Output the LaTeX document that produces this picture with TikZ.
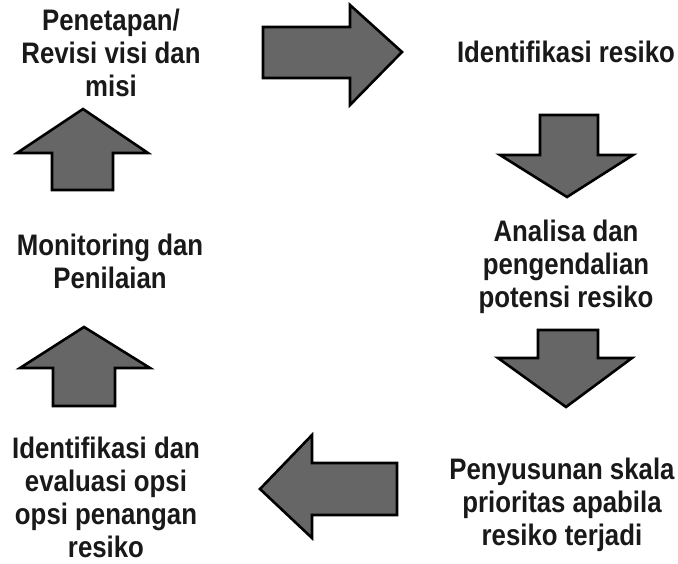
\documentclass[tikz,border=0pt]{standalone}
\usepackage{graphicx}
\usepackage{fontspec}
\setmainfont{Liberation Sans}
\newcommand\tallstack[1]{\scalebox{1}[1.15]{\begin{tabular}{@{}c@{}}#1\end{tabular}}}
\begin{document}
\begin{tikzpicture}[x=1pt,y=-1pt,
  bigarrow/.style={draw=black, line width=2.6pt, line join=miter, fill=black!60},
  label/.style={align=center, inner sep=0pt, font=\fontsize{25.8}{28.7}\selectfont\bfseries, text=black!90}]
\useasboundingbox (0,0) rectangle (678,564);
% text nodes
\node[label] (visi) at (111,57) {\tallstack{Penetapan/\\Revisi visi dan\\misi}};
\node[label] (ident) at (566,56) {\tallstack{Identifikasi resiko}};
\node[label] (analisa) at (566,268) {\tallstack{Analisa dan\\pengendalian\\potensi resiko}};
\node[label] (skala) at (562,506) {\tallstack{Penyusunan skala\\prioritas apabila\\resiko terjadi}};
\node[label] (opsi) at (106,501) {\tallstack{Identifikasi dan\\evaluasi opsi\\opsi penangan\\resiko}};
\node[label] (monitor) at (110,265) {\tallstack{Monitoring dan\\Penilaian}};
% block arrows
% right (visi -> ident)
\draw[bigarrow] (263,27) -- (350,27) -- (350,5) -- (402,52) -- (350,105) -- (350,78) -- (263,78) -- cycle;
% down (ident -> analisa)
\draw[bigarrow] (540,115) -- (598,115) -- (598,155) -- (633,155) -- (567,197) -- (500,155) -- (540,155) -- cycle;
% down (analisa -> skala)
\draw[bigarrow] (538,330) -- (598,330) -- (598,358) -- (632,358) -- (566,407) -- (498,358) -- (538,358) -- cycle;
% left (skala -> opsi)
\draw[bigarrow] (397,463) -- (312,463) -- (312,435) -- (260,489) -- (312,538) -- (312,515) -- (397,515) -- cycle;
% up (opsi -> monitor)
\draw[bigarrow] (53,406) -- (53,368) -- (20,368) -- (84,327) -- (150,368) -- (115,368) -- (115,406) -- cycle;
% up (monitor -> visi)
\draw[bigarrow] (52,190) -- (52,153) -- (17,153) -- (83,109) -- (148,153) -- (113,153) -- (113,190) -- cycle;
\end{tikzpicture}
\end{document}
